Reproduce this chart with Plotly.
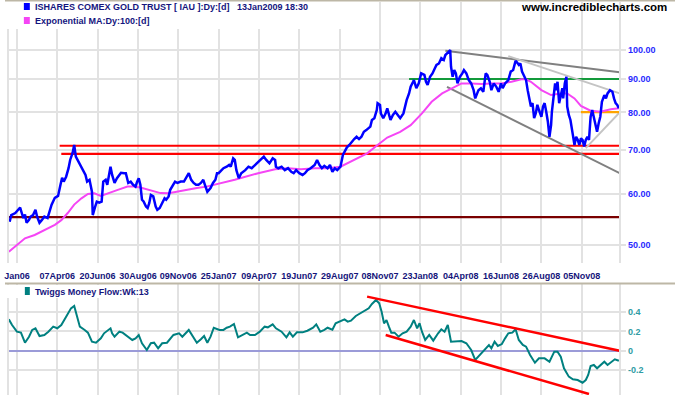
import math
import plotly.graph_objects as go

# ---------------- DATA ----------------
# x axis = trading-day number (0 = 26Jan06, one grid step = 50 trading days)
tick_day = [0, 50, 100, 150, 200, 250, 300, 350, 400, 450, 500, 550, 600, 650, 700]
# first label is cut by the chart's left edge in the original ("26Jan06")
tick_label = ["Jan06", "07Apr06", "20Jun06", "30Aug06", "09Nov06", "25Jan07", "09Apr07",
              "19Jun07", "29Aug07", "08Nov07", "23Jan08", "04Apr08", "16Jun08", "26Aug08", "05Nov08"]

price_day = [-9, -7, -2, 1, 4, 6, 8, 10, 12, 15, 17, 20, 23, 25, 28, 31, 34, 38, 41, 43, 47, 51, 54, 56,
             58, 61, 64, 66, 69, 71, 73, 75, 79, 82, 85, 87, 90, 93, 94, 97, 99, 102, 105, 107, 110,
             112, 115, 116, 118, 121, 124, 127, 129, 133, 135, 138, 141, 144, 147, 149, 151, 153, 155,
             157, 160, 162, 164, 166, 169, 172, 174, 177, 180, 183, 185, 188, 190, 194, 196, 199, 203,
             207, 210, 213, 216, 219, 222, 225, 228, 231, 233, 236, 240, 243, 246, 248, 250, 256, 260,
             263, 265, 268, 270, 272, 275, 278, 283, 287, 291, 295, 299, 303, 306, 309, 313, 317, 320,
             321, 324, 328, 332, 336, 340, 343, 346, 350, 354, 357, 360, 364, 369, 372, 375, 378, 381,
             385, 388, 391, 394, 397, 401, 404, 406, 409, 412, 415, 418, 421, 424, 427, 430, 433, 436,
             438, 440, 443, 446, 447, 450, 451, 454, 457, 459, 461, 463, 466, 469, 472, 475, 479, 481,
             483, 486, 488, 491, 492, 495, 498, 501, 505, 507, 509, 512, 515, 518, 520, 523, 526, 529,
             531, 535, 537, 538, 540, 542, 544, 546, 549, 552, 554, 557, 560, 563, 566, 568, 570, 572,
             575, 578, 581, 583, 586, 588, 591, 594, 597, 600, 602, 605, 609, 612, 615, 618, 620, 622,
             624, 626, 628, 631, 633, 635, 637, 639, 641, 643, 645, 647, 650, 652, 654, 656, 658, 660,
             662, 663, 665, 667, 668, 670, 672, 674, 676, 677, 679, 681, 682, 684, 686, 689, 691, 693,
             695, 697, 699, 701, 703, 705, 707, 709, 711, 713, 715, 717, 719, 721, 723, 725, 728, 730,
             732, 735, 738, 740, 742, 744, 746]
price_close = [54.3, 55.6, 56.0, 56.65, 57.1, 56.0, 55.0, 55.7, 54.1, 54.65, 55.3, 55.6, 56.65, 55.3, 54.1,
               54.65, 55.3, 55.0, 56.65, 57.7, 59.1, 59.5, 61.9, 63.45, 62.6, 63.7, 65.65, 67.6, 69.3,
               71.3, 68.4, 67.6, 66.4, 65.2, 64.1, 62.6, 63.0, 60.4, 55.6, 57.3, 58.3, 58.1, 58.3, 62.6,
               63.0, 61.9, 65.65, 66.0, 64.1, 62.3, 63.35, 64.1, 64.6, 64.5, 64.5, 62.3, 62.6, 61.9,
               61.5, 62.6, 63.35, 61.9, 58.7, 58.35, 57.3, 57.0, 58.0, 59.7, 59.4, 57.3, 56.65, 57.0,
               58.0, 59.0, 58.7, 59.4, 60.8, 61.9, 62.6, 62.3, 62.6, 62.6, 63.7, 64.5, 63.0, 62.3, 61.9,
               61.9, 62.3, 63.0, 61.9, 60.4, 61.2, 62.3, 63.0, 64.5, 64.5, 65.65, 66.0, 66.4, 66.0, 68.0,
               67.6, 65.2, 63.35, 64.5, 65.2, 66.0, 65.65, 66.4, 67.2, 68.0, 68.4, 67.6, 66.8, 68.0, 67.6,
               66.0, 65.65, 66.0, 65.2, 65.65, 64.8, 64.5, 65.2, 64.5, 64.1, 64.5, 65.2, 65.65, 66.4,
               67.6, 66.4, 65.65, 66.2, 65.65, 66.4, 64.8, 65.65, 65.2, 66.0, 68.8, 69.6, 70.7, 71.3,
               72.2, 72.8, 73.4, 72.8, 73.4, 74.7, 75.15, 75.6, 76.1, 77.9, 78.4, 80.7, 82.7, 82.2, 79.75,
               78.4, 79.75, 81.2, 79.75, 77.9, 79.3, 80.2, 79.3, 78.4, 79.75, 81.7, 83.6, 85.6, 87.7, 89.2,
               89.75, 87.2, 88.7, 91.9, 91.4, 89.2, 88.2, 90.8, 91.9, 93.6, 94.7, 95.2, 97.0, 96.4, 98.1,
               99.2, 99.8, 94.1, 90.8, 93.0, 91.9, 88.7, 90.8, 91.9, 93.0, 91.9, 89.75, 88.7, 86.6, 84.1,
               85.6, 86.6, 87.2, 86.1, 91.9, 91.4, 89.2, 86.6, 88.7, 87.7, 86.1, 88.7, 87.2, 88.7, 89.75,
               92.5, 93.0, 96.1, 95.5, 94.7, 95.2, 92.5, 91.4, 89.75, 86.6, 83.6, 81.7, 82.7, 78.4, 79.75,
               82.2, 80.7, 78.8, 81.7, 82.7, 80.2, 77.5, 73.4, 76.5, 80.2, 84.1, 88.7, 86.6, 89.2, 82.7,
               85.6, 87.2, 84.1, 88.7, 90.8, 81.7, 79.3, 77.9, 73.9, 71.3, 73.4, 72.6, 71.3, 73.0, 72.6,
               70.9, 72.6, 73.4, 72.6, 78.8, 80.7, 78.8, 76.1, 74.7, 77.0, 78.8, 83.1, 85.1, 84.1, 85.6,
               86.6, 86.1, 84.1, 82.7, 82.2, 81.2]

ema_day = [-10, -2, 10, 22, 30, 39, 47, 55, 63, 71, 80, 88, 96, 104, 112, 125, 137, 145, 153, 166, 178,
           188, 198, 211, 223, 235, 248, 270, 299, 320, 336, 352, 369, 385, 401, 418, 434, 447, 459,
           475, 488, 502, 514, 527, 539, 551, 563, 576, 588, 600, 613, 625, 631, 637, 650, 662, 674,
           682, 691, 699, 711, 723, 736, 746]
ema_value = [48.8, 49.7, 51.2, 51.8, 52.4, 53.05, 53.7, 54.6, 56.0, 57.7, 59.0, 59.9, 60.05, 59.5, 60.05,
             60.8, 61.5, 61.5, 61.3, 60.6, 60.1, 60.05, 60.4, 60.8, 61.2, 61.5, 62.0, 63.0, 64.5, 65.4,
             65.65, 65.4, 65.65, 65.65, 66.0, 67.6, 69.2, 71.3, 73.2, 74.7, 76.5, 79.75, 83.1, 85.6,
             87.2, 88.7, 88.7, 88.5, 88.7, 88.7, 89.2, 90.0, 90.0, 89.2, 86.6, 85.1, 85.6, 85.6, 84.1,
             81.9, 80.5, 80.2, 80.9, 81.2]

tmf_day = [-10, -6, 0, 5, 10, 15, 19, 23, 28, 34, 39, 45, 50, 55, 61, 67, 71, 73, 78, 84, 88, 93, 98,
           104, 108, 116, 118, 121, 127, 131, 137, 143, 147, 151, 155, 161, 166, 170, 175, 180, 186,
           194, 201, 205, 213, 217, 223, 228, 232, 236, 240, 244, 251, 256, 260, 264, 269, 274, 280,
           285, 289, 295, 301, 307, 311, 317, 321, 328, 334, 338, 342, 347, 354, 360, 367, 371, 376,
           381, 385, 391, 395, 400, 406, 410, 414, 420, 426, 432, 436, 440, 445, 449, 452, 455, 458,
           461, 464, 468, 473, 478, 483, 488, 492, 496, 499, 502, 506, 511, 516, 522, 526, 530, 534,
           538, 544, 551, 557, 563, 568, 574, 580, 585, 588, 592, 596, 601, 605, 609, 614, 618, 622,
           627, 631, 636, 642, 647, 654, 660, 666, 670, 674, 678, 684, 689, 695, 701, 705, 708, 711,
           715, 719, 723, 728, 732, 738, 741, 746]
tmf_value = [0.325, 0.266, 0.197, 0.187, 0.083, 0.145, 0.215, 0.232, 0.152, 0.163, 0.197, 0.249, 0.232,
             0.266, 0.352, 0.439, 0.463, 0.404, 0.249, 0.215, 0.187, 0.093, 0.083, 0.128, 0.180, 0.232,
             0.180, 0.145, 0.197, 0.187, 0.145, 0.111, 0.128, 0.163, 0.077, 0.007, 0.077, 0.083, 0.025,
             0.077, 0.083, 0.163, 0.180, 0.145, 0.215, 0.163, 0.083, 0.118, 0.152, 0.083, 0.145, 0.238,
             0.215, 0.215, 0.238, 0.249, 0.277, 0.139, 0.163, 0.187, 0.163, 0.163, 0.197, 0.249, 0.242,
             0.273, 0.232, 0.197, 0.139, 0.190, 0.145, 0.190, 0.190, 0.207, 0.238, 0.273, 0.197, 0.215,
             0.238, 0.218, 0.284, 0.301, 0.325, 0.301, 0.311, 0.360, 0.388, 0.415, 0.439, 0.484, 0.525,
             0.491, 0.404, 0.284, 0.318, 0.249, 0.187, 0.187, 0.145, 0.180, 0.197, 0.249, 0.318, 0.232,
             0.284, 0.197, 0.111, 0.163, 0.104, 0.180, 0.222, 0.197, 0.266, 0.093, 0.093, 0.100, 0.077,
             0.007, -0.096, -0.045, 0.015, 0.059, 0.025, 0.093, 0.049, 0.069, 0.128, 0.180, 0.187, 0.222,
             0.111, 0.059, 0.042, -0.045, -0.124, -0.079, -0.079, -0.114, -0.010, -0.010, -0.062,
             -0.182, -0.269, -0.296, -0.304, -0.332, -0.304, -0.252, -0.159, -0.148, -0.182, -0.148,
             -0.114, -0.148, -0.114, -0.089, -0.104]

# horizontal support / resistance levels: (start day, end day, price)
red_levels = [(53, 747, 71.1), (55, 747, 69.1)]
maroon_level = (-14, 747, 55.2)
green_level = (486, 747, 90.1)
orange_level = (699, 747, 80.1)
# trend lines on price: ((day0, price0), (day1, price1))
dark_trends = [((531, 99.6), (747, 92.3)), ((533, 87.6), (747, 64.5))]
light_trends = [((609, 97.7), (747, 85.6)), ((705, 70.5), (747, 80.0))]
# trend channel on Twiggs Money Flow
tmf_trends = [((434, 0.56), (747, 0.0)), ((457, 0.163), (709, -0.449))]

price_ticks = [50, 60, 70, 80, 90, 100]
tmf_ticks = [-0.2, 0, 0.2, 0.4]

# ---------------- FIGURE ----------------
W, H = 675, 395


def px(x):
    return x / W


def py(y):
    return 1 - y / H


GRID = "#e2e2e2"
FONT = "Liberation Sans, Arial, sans-serif"
X_RANGE = [-9.84, 746.7]

fig = go.Figure()


def seg(x0, y0, x1, y1, color, width, xa="x", ya="y"):
    fig.add_trace(go.Scatter(x=[x0, x1], y=[y0, y1], mode="lines",
                             line=dict(color=color, width=width),
                             xaxis=xa, yaxis=ya, hoverinfo="skip"))


for d0, d1, v in red_levels:
    seg(d0, v, d1, v, "#ff0000", 2.2)
seg(maroon_level[0], maroon_level[2], maroon_level[1], maroon_level[2], "#7a0000", 2.2)
seg(green_level[0], green_level[2], green_level[1], green_level[2], "#139a3b", 2.2)
for (a, b) in dark_trends:
    seg(a[0], a[1], b[0], b[1], "#808080", 2)
for (a, b) in light_trends:
    seg(a[0], a[1], b[0], b[1], "#c4c4c4", 2)
seg(orange_level[0], orange_level[2], orange_level[1], orange_level[2], "#ffa500", 2.2)

fig.add_trace(go.Scatter(x=ema_day, y=ema_value, mode="lines",
                         line=dict(color="#f545f5", width=2), xaxis="x", yaxis="y"))
fig.add_trace(go.Scatter(x=price_day, y=price_close, mode="lines",
                         line=dict(color="#0000ff", width=2.5), xaxis="x", yaxis="y"))

fig.add_trace(go.Scatter(x=tmf_day, y=tmf_value, mode="lines",
                         line=dict(color="#008080", width=2), xaxis="x2", yaxis="y2"))
for (a, b) in tmf_trends:
    seg(a[0], a[1], b[0], b[1], "#ff0000", 2.5, "x2", "y2")

xcommon = dict(range=X_RANGE, tickmode="array", tickvals=tick_day, showgrid=True,
               gridcolor=GRID, gridwidth=1.5, zeroline=False, showline=False,
               domain=[px(4), px(619)])

fig.update_layout(
    width=W, height=H, margin=dict(l=0, r=0, t=0, b=0),
    paper_bgcolor="white", plot_bgcolor="white", showlegend=False,
    xaxis=dict(**xcommon, anchor="y", ticktext=tick_label, ticks="outside", ticklen=4,
               tickcolor="white", ticklabeloverflow="allow",
               tickfont=dict(family=FONT, size=9, color="#14147a", weight="bold")),
    yaxis=dict(domain=[py(263), py(2)], anchor="x", side="right", type="log",
               range=[math.log10(46.9), math.log10(118.4)], tickmode="array",
               tickvals=price_ticks, ticktext=["%.2f" % t for t in price_ticks],
               showgrid=True, gridcolor=GRID, gridwidth=1.5, zeroline=False,
               ticks="outside", ticklen=5, tickcolor=GRID, tickwidth=1.5,
               showline=True, linecolor=GRID, linewidth=1.5, mirror=True,
               tickfont=dict(family=FONT, size=9, color="#2a2aff", weight="bold")),
    xaxis2=dict(**xcommon, anchor="y2", showticklabels=False, ticks=""),
    yaxis2=dict(domain=[0, py(284)], anchor="x2", side="right",
                range=[-0.459, 0.691], tickmode="array", tickvals=tmf_ticks,
                ticktext=["-0.2", "0", "0.2", "0.4"],
                showgrid=True, gridcolor=GRID, gridwidth=1.5,
                zeroline=True, zerolinecolor="#9b9bd8", zerolinewidth=1.5,
                ticks="outside", ticklen=5, tickcolor=GRID, tickwidth=1.5,
                showline=True, linecolor=GRID, linewidth=1.5, mirror=True,
                tickfont=dict(family=FONT, size=9, color="#2f9ca4", weight="bold")),
)

shapes = [
    # white legend backgrounds hiding gridlines
    dict(type="rect", xref="paper", yref="paper", x0=px(0), x1=px(345), y0=py(29), y1=py(0),
         fillcolor="white", line=dict(width=0), layer="above"),
    dict(type="rect", xref="paper", yref="paper", x0=px(0), x1=px(155), y0=py(298), y1=py(285),
         fillcolor="white", line=dict(width=0), layer="above"),
    # legend colour keys
    dict(type="rect", xref="paper", yref="paper", x0=px(19), x1=px(25), y0=py(10), y1=py(3),
         fillcolor="#0000ff", line=dict(width=0), layer="above"),
    dict(type="rect", xref="paper", yref="paper", x0=px(19), x1=px(25), y0=py(24), y1=py(17),
         fillcolor="#f545f5", line=dict(width=0), layer="above"),
    dict(type="rect", xref="paper", yref="paper", x0=px(20), x1=px(25), y0=py(295), y1=py(287),
         fillcolor="#008080", line=dict(width=0), layer="above"),
    # panel separators
    dict(type="line", xref="paper", yref="paper", x0=0, x1=1, y0=py(0.8), y1=py(0.8),
         line=dict(color="#bdb7a6", width=1.6), layer="above"),
    dict(type="line", xref="paper", yref="paper", x0=0, x1=1, y0=py(283.5), y1=py(283.5),
         line=dict(color="#bdb7a6", width=2), layer="above"),
]
fig.update_layout(shapes=shapes)

ann_font = dict(family=FONT, size=9, color="#15157e")
annotations = [
    dict(text="<b>ISHARES COMEX GOLD TRUST [ IAU ]:Dy:[d] \u00a0 13Jan2009 18:30</b>",
         x=px(28), y=py(7), xanchor="left", yanchor="middle", font=ann_font),
    dict(text="<b>Exponential MA:Dy:100:[d]</b>",
         x=px(28), y=py(21), xanchor="left", yanchor="middle", font=ann_font),
    dict(text="<b>Twiggs Money Flow:Wk:13</b>",
         x=px(28), y=py(291.5), xanchor="left", yanchor="middle", font=ann_font),
    dict(text="<b>www.incrediblecharts.com</b>",
         x=px(518), y=py(7), xanchor="left", yanchor="middle",
         font=dict(family=FONT, size=11.5, color="#000000")),
]
for a in annotations:
    a.update(xref="paper", yref="paper", showarrow=False)
fig.update_layout(annotations=annotations)

fig.write_html("out.html", config={"displayModeBar": False},
               post_script="document.body.style.margin='0';document.body.style.overflow='hidden';")
